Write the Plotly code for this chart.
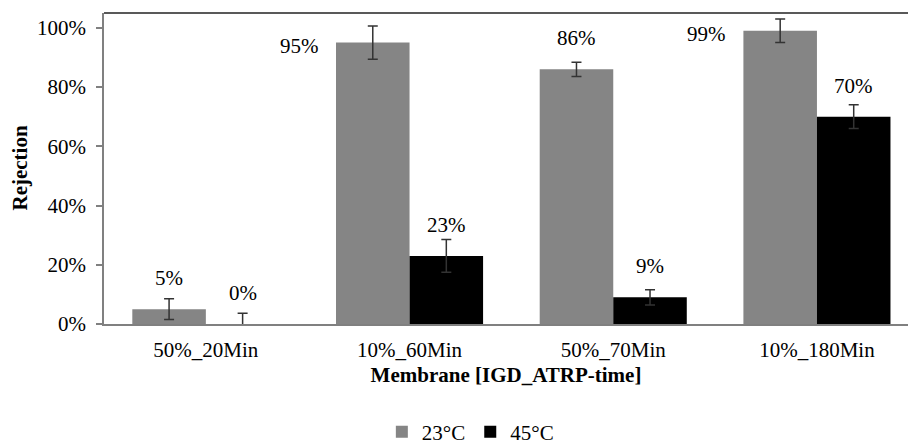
import plotly.graph_objects as go

categories = ["50%_20Min", "10%_60Min", "50%_70Min", "10%_180Min"]
series_names = ["23°C", "45°C"]
values_23 = [5, 95, 86, 99]
values_45 = [0, 23, 9, 70]
err_23 = [3.5, 5.6, 2.4, 4.0]
err_45 = [3.6, 5.5, 2.6, 4.0]
labels_23 = ["5%", "95%", "86%", "99%"]
labels_45 = ["0%", "23%", "9%", "70%"]
y_ticks = [0, 20, 40, 60, 80, 100]
y_ticklabels = ["0%", "20%", "40%", "60%", "80%", "100%"]

FONT = "Liberation Serif, Times New Roman, serif"
FS = 21
GRAY = "#858585"
BLACK = "#000000"

fig = go.Figure()
x_idx = list(range(len(categories)))
fig.add_trace(go.Bar(
    x=x_idx, y=values_23, name=series_names[0], marker=dict(color=GRAY, line=dict(width=0)),
    error_y=dict(type="data", array=err_23, visible=True, color="#333333", thickness=1.5, width=5),
))
fig.add_trace(go.Bar(
    x=x_idx, y=values_45, name=series_names[1], marker=dict(color=BLACK, line=dict(width=0)),
    error_y=dict(type="data", array=err_45, visible=True, color="#333333", thickness=1.5, width=5),
))

bar_off = 0.18
lab_font = dict(family=FONT, size=FS, color="black")
for i in x_idx:
    v = values_23[i]
    if v >= 95:
        fig.add_annotation(x=i - bar_off - 0.36, y=v, text=labels_23[i], showarrow=False,
                           xanchor="center", yanchor="middle", yshift=-3, font=lab_font)
    else:
        fig.add_annotation(x=i - bar_off, y=v, text=labels_23[i], showarrow=False,
                           xanchor="center", yanchor="bottom", yshift=17, font=lab_font)
    v = values_45[i]
    fig.add_annotation(x=i + bar_off, y=v, text=labels_45[i], showarrow=False,
                       xanchor="center", yanchor="bottom", yshift=17, font=lab_font)

fig.add_annotation(xref="paper", yref="paper", x=0, y=0.5, xshift=-85, text="<b>Rejection</b>",
                   textangle=-90, showarrow=False, xanchor="center", yanchor="middle", font=lab_font)

fig.add_shape(type="line", xref="paper", yref="paper", x0=0, x1=1, y0=1, y1=1,
              line=dict(color="#222222", width=1.5))

fig.update_layout(
    template="none",
    width=908, height=444,
    margin=dict(l=104, r=0, t=13, b=120, autoexpand=False),
    paper_bgcolor="white", plot_bgcolor="white",
    barmode="group", bargap=0.278, bargroupgap=0,
    font=dict(family=FONT, size=FS, color="black"),
    showlegend=True,
    legend=dict(orientation="h", xref="container", yref="container", x=0.518, xanchor="center",
                y=1 - 432 / 444, yanchor="middle",
                font=lab_font, itemwidth=30, tracegroupgap=0, bgcolor="rgba(0,0,0,0)"),
    xaxis=dict(
        tickmode="array", tickvals=x_idx, ticktext=categories, range=[-0.5, 3.447],
        showline=True, linecolor="#808080", linewidth=1.5, ticks="", showgrid=False,
        zeroline=False, automargin=False, tickfont=lab_font, ticklabelstandoff=6,
        title=dict(text="<b>Membrane [IGD_ATRP-time]</b>", font=lab_font, standoff=6),
    ),
    yaxis=dict(
        range=[0, 105], tickmode="array", tickvals=y_ticks, ticktext=y_ticklabels,
        showline=True, linecolor="#808080", linewidth=1.5, ticks="outside", ticklen=6,
        tickcolor="#808080", tickwidth=1.5, showgrid=False, zeroline=False, automargin=False,
        tickfont=lab_font, ticklabelstandoff=6,
    ),
)

fig.write_html("out.html", config={"displayModeBar": False},
               post_script="document.body.style.margin='0';document.body.style.overflow='hidden';")
